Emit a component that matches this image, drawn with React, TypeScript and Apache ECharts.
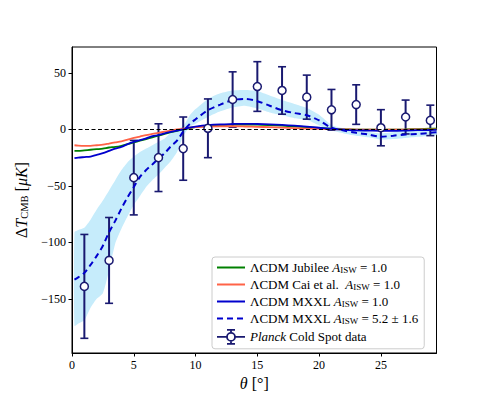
import React, { useEffect, useRef } from "react";
import * as echarts from "echarts";

const theta = [0.2, 0.5, 1, 1.5, 2, 2.5, 3, 3.5, 4, 4.5, 5, 5.5, 6, 6.5, 7, 7.5, 8, 8.5, 9, 9.5, 10, 11, 12, 13, 14, 15, 16, 17, 18, 19, 20, 21, 22, 23, 24, 25, 26, 27, 28, 29, 29.5];
const jubilee = [-19, -19, -18.5, -18, -17.5, -17, -16, -15.5, -14.5, -13, -11.5, -10, -8.5, -7, -5.5, -4, -2.5, -1.2, 0, 1, 2, 3, 3.8, 4.2, 4.3, 4.2, 3.8, 3.3, 2.7, 2, 1.3, 0.6, 0.1, -0.2, -0.3, -0.3, -0.2, 0, 0.3, 0.6, 0.7];
const cai = [-14, -14.3, -14.5, -14.5, -14, -13.5, -12.5, -11.5, -10.5, -9, -7.5, -6.3, -5, -4, -3, -2, -1, 0, 0.8, 1.5, 2, 2.6, 2.8, 2.8, 2.6, 2.3, 2, 1.6, 1.2, 0.8, 0.5, 0.2, 0, -0.1, -0.2, -0.2, -0.2, -0.1, 0, 0, 0];
const mxxl = [-25.5, -25, -24.5, -24, -22.5, -21, -19, -17, -15.5, -13, -11, -9.5, -8, -6, -5, -3.5, -2.2, -1, 0, 1.5, 2.5, 3.8, 4.5, 4.8, 5, 4.8, 4.5, 4, 3.3, 2.5, 1.5, 0.5, -0.2, -0.8, -1, -1.2, -1.2, -1, -0.7, -0.5, -0.4];
const mxxlHigh = [-133, -131, -127, -120, -112, -103, -91, -81, -70, -60, -51, -42, -36, -31, -26, -21, -15, -10, -2, 4.5, 9, 17, 22, 26, 27, 25, 21, 17, 14.5, 12.5, 8, 1.5, -1, -3, -4.5, -6.5, -5.5, -4.5, -4, -3, -2.5];
const bandUpper = [-91, -89, -87, -80, -71, -63, -54, -45, -36, -29, -24, -20, -17, -14, -11, -8, -3, 0, 3, 12, 18, 27, 32, 34.5, 35, 34, 30, 26, 22.5, 19, 13, 4, 1, -0.5, -2, -3.5, -2.5, -1.5, -1.5, -0.5, 0];
const bandLower = [-174, -172, -169, -158, -150, -145, -125, -101, -88, -77, -67, -59, -51, -45, -40, -34, -28, -20, -6, 2, 5, 11, 16, 19.5, 21, 18.5, 15, 12.5, 10, 8.5, 3.5, -1, -3.5, -5.5, -7, -9, -8.5, -7.5, -6.5, -5.5, -5];

const dataTheta = [1, 3, 5, 7, 9, 11, 13, 15, 17, 19, 21, 23, 25, 27, 29];
const dataValue = [-139, -116, -42.7, -25, -17, 1, 26.5, 38, 34.5, 28.6, 17.4, 22, 1.5, 11, 8];
const dataError = [46, 38, 33, 30, 28, 26, 24.5, 22, 21, 19.5, 18, 17.5, 16, 15, 13.5];

const xTicks = [0, 5, 10, 15, 20, 25];
const yTicks = [-150, -100, -50, 0, 50];

const FONT = "Liberation Serif";
const NAVY = "#191970";

const N_JUB = "jub";
const N_CAI = "cai";
const N_MXXL = "mxxl";
const N_MXXL52 = "mxxl52";
const N_PLANCK = "planck";

const zip = (a: number[], b: number[]) => a.map((v, i) => [v, b[i]]);

export default function App() {
  const ref = useRef<HTMLDivElement>(null);
  useEffect(() => {
    if (!ref.current) return;
    const chart = echarts.init(ref.current, undefined, { renderer: "svg" });
    const legendText: Record<string, string> = {
      [N_JUB]: "{n|ΛCDM Jubilee }{i|A}{s|ISW}{n| = 1.0}",
      [N_CAI]: "{n|ΛCDM Cai et al.  }{i|A}{s|ISW}{n| = 1.0}",
      [N_MXXL]: "{n|ΛCDM MXXL }{i|A}{s|ISW}{n| = 1.0}",
      [N_MXXL52]: "{n|ΛCDM MXXL }{i|A}{s|ISW}{n| = 5.2 ± 1.6}",
      [N_PLANCK]: "{i|Planck}{n| Cold Spot data}",
    };
    const errIcon =
      "path://M0,7L10,7M18,7L28,7M14,0L14,3M14,11L14,14M10,0L18,0M10,14L18,14M18,7A4,4,0,1,1,10,7A4,4,0,1,1,18,7Z";
    const hideSym = { opacity: 0 };
    const option: any = {
      animation: false,
      grid: { left: 72, right: 48.5, top: 47, bottom: 44, show: true, borderColor: "#000", borderWidth: 1, backgroundColor: "transparent" },
      xAxis: {
        type: "value",
        min: 0,
        max: 29.5,
        name: "{i|θ}{n| [°]}",
        nameLocation: "middle",
        nameGap: 20,
        nameTextStyle: {
          rich: {
            n: { fontFamily: FONT, fontSize: 16, color: "#000" },
            i: { fontFamily: FONT, fontSize: 16, fontStyle: "italic", color: "#000" },
          },
        },
        axisLine: { show: true, onZero: false, lineStyle: { color: "#000", width: 1 } },
        axisTick: { show: true, length: 3.5, customValues: xTicks, lineStyle: { color: "#000" } },
        axisLabel: { customValues: xTicks, fontFamily: FONT, fontSize: 12, color: "#000", margin: 6 },
        splitLine: { show: false },
      },
      yAxis: {
        type: "value",
        min: -198,
        max: 73,
        name: "{n|Δ}{i|T}{s|CMB}{n| [}{i|μK}{n|]}",
        nameLocation: "middle",
        nameRotate: 90,
        nameGap: 42,
        nameTextStyle: {
          rich: {
            n: { fontFamily: FONT, fontSize: 16, color: "#000", lineHeight: 18 },
            i: { fontFamily: FONT, fontSize: 16, fontStyle: "italic", color: "#000", lineHeight: 18 },
            s: { fontFamily: FONT, fontSize: 10.5, color: "#000", lineHeight: 18, verticalAlign: "bottom" },
          },
        },
        axisLine: { show: true, onZero: false, lineStyle: { color: "#000", width: 1 } },
        axisTick: { show: true, length: 3.5, customValues: yTicks, lineStyle: { color: "#000" } },
        axisLabel: {
          customValues: yTicks,
          fontFamily: FONT,
          fontSize: 12,
          color: "#000",
          margin: 6,
          formatter: (v: number) => String(v).replace("-", "\u2212"),
        },
        splitLine: { show: false },
      },
      legend: {
        orient: "vertical",
        left: 212,
        top: 257,
        padding: [4, 6, 4, 4],
        itemWidth: 28,
        itemHeight: 14,
        itemGap: 3.5,
        backgroundColor: "rgba(255,255,255,0.8)",
        borderColor: "#cccccc",
        borderWidth: 1,
        borderRadius: 3,
        selectedMode: false,
        data: [
          { name: N_JUB, itemStyle: hideSym },
          { name: N_CAI, itemStyle: hideSym },
          { name: N_MXXL, itemStyle: hideSym },
          { name: N_MXXL52, itemStyle: hideSym },
          { name: N_PLANCK, icon: errIcon, itemStyle: { color: "#fff", borderColor: NAVY, borderWidth: 1.8 } },
        ],
        formatter: (name: string) => legendText[name] || name,
        textStyle: {
          fontFamily: FONT,
          fontSize: 13,
          color: "#000",
          rich: {
            n: { fontFamily: FONT, fontSize: 13, color: "#000", lineHeight: 14 },
            i: { fontFamily: FONT, fontSize: 13, fontStyle: "italic", color: "#000", lineHeight: 14 },
            s: { fontFamily: FONT, fontSize: 9, color: "#000", lineHeight: 14, verticalAlign: "bottom" },
          },
        },
      },
      series: [
        {
          type: "custom",
          name: "band",
          coordinateSystem: "cartesian2d",
          silent: true,
          clip: true,
          data: [[0, 0]],
          renderItem: (params: any, api: any) => {
            const pts: number[][] = [];
            for (let i = 0; i < theta.length; i++) pts.push(api.coord([theta[i], bandUpper[i]]));
            for (let i = theta.length - 1; i >= 0; i--) pts.push(api.coord([theta[i], bandLower[i]]));
            return { type: "polygon", shape: { points: pts, smooth: 0.2 }, style: { fill: "#c6ecfb", stroke: "none" } };
          },
          markLine: {
            silent: true,
            symbol: "none",
            label: { show: false },
            lineStyle: { color: "#000", type: [4, 2.5], width: 1 },
            data: [{ yAxis: 0 }],
          },
        },
        { type: "line", name: N_JUB, data: zip(theta, jubilee), showSymbol: false, symbol: "none", smooth: 0.3, lineStyle: { color: "#008000", width: 1.8 }, itemStyle: { color: "#008000" } },
        { type: "line", name: N_CAI, data: zip(theta, cai), showSymbol: false, symbol: "none", smooth: 0.3, lineStyle: { color: "#ff6347", width: 1.8 }, itemStyle: { color: "#ff6347" } },
        { type: "line", name: N_MXXL, data: zip(theta, mxxl), showSymbol: false, symbol: "none", smooth: 0.3, lineStyle: { color: "#0000cd", width: 1.8 }, itemStyle: { color: "#0000cd" } },
        { type: "line", name: N_MXXL52, data: zip(theta, mxxlHigh), showSymbol: false, symbol: "none", smooth: 0.3, lineStyle: { color: "#0000cd", width: 2, type: [6, 4] }, itemStyle: { color: "#0000cd" } },
        {
          type: "custom",
          name: "errbars",
          coordinateSystem: "cartesian2d",
          data: dataTheta.map((t, i) => [t, dataValue[i], dataError[i]]),
          encode: { x: 0, y: 1 },
          renderItem: (params: any, api: any) => {
            const x = api.value(0);
            const y = api.value(1);
            const e = api.value(2);
            const top = api.coord([x, y + e]);
            const bot = api.coord([x, y - e]);
            const style = { stroke: NAVY, lineWidth: 2 };
            return {
              type: "group",
              children: [
                { type: "line", shape: { x1: top[0], y1: top[1], x2: bot[0], y2: bot[1] }, style },
                { type: "line", shape: { x1: top[0] - 4, y1: top[1], x2: top[0] + 4, y2: top[1] }, style: { stroke: NAVY, lineWidth: 1.6 } },
                { type: "line", shape: { x1: bot[0] - 4, y1: bot[1], x2: bot[0] + 4, y2: bot[1] }, style: { stroke: NAVY, lineWidth: 1.6 } },
              ],
            };
          },
        },
        {
          type: "scatter",
          name: N_PLANCK,
          data: zip(dataTheta, dataValue),
          symbol: "circle",
          symbolSize: 8,
          itemStyle: { color: "#fff", borderColor: NAVY, borderWidth: 1.5, opacity: 1 },
          z: 3,
        },
      ],
    };
    chart.setOption(option);
    return () => chart.dispose();
  }, []);
  return <div ref={ref} style={{ position: "absolute", left: 0, top: 0, width: 485, height: 397 }} />;
}
